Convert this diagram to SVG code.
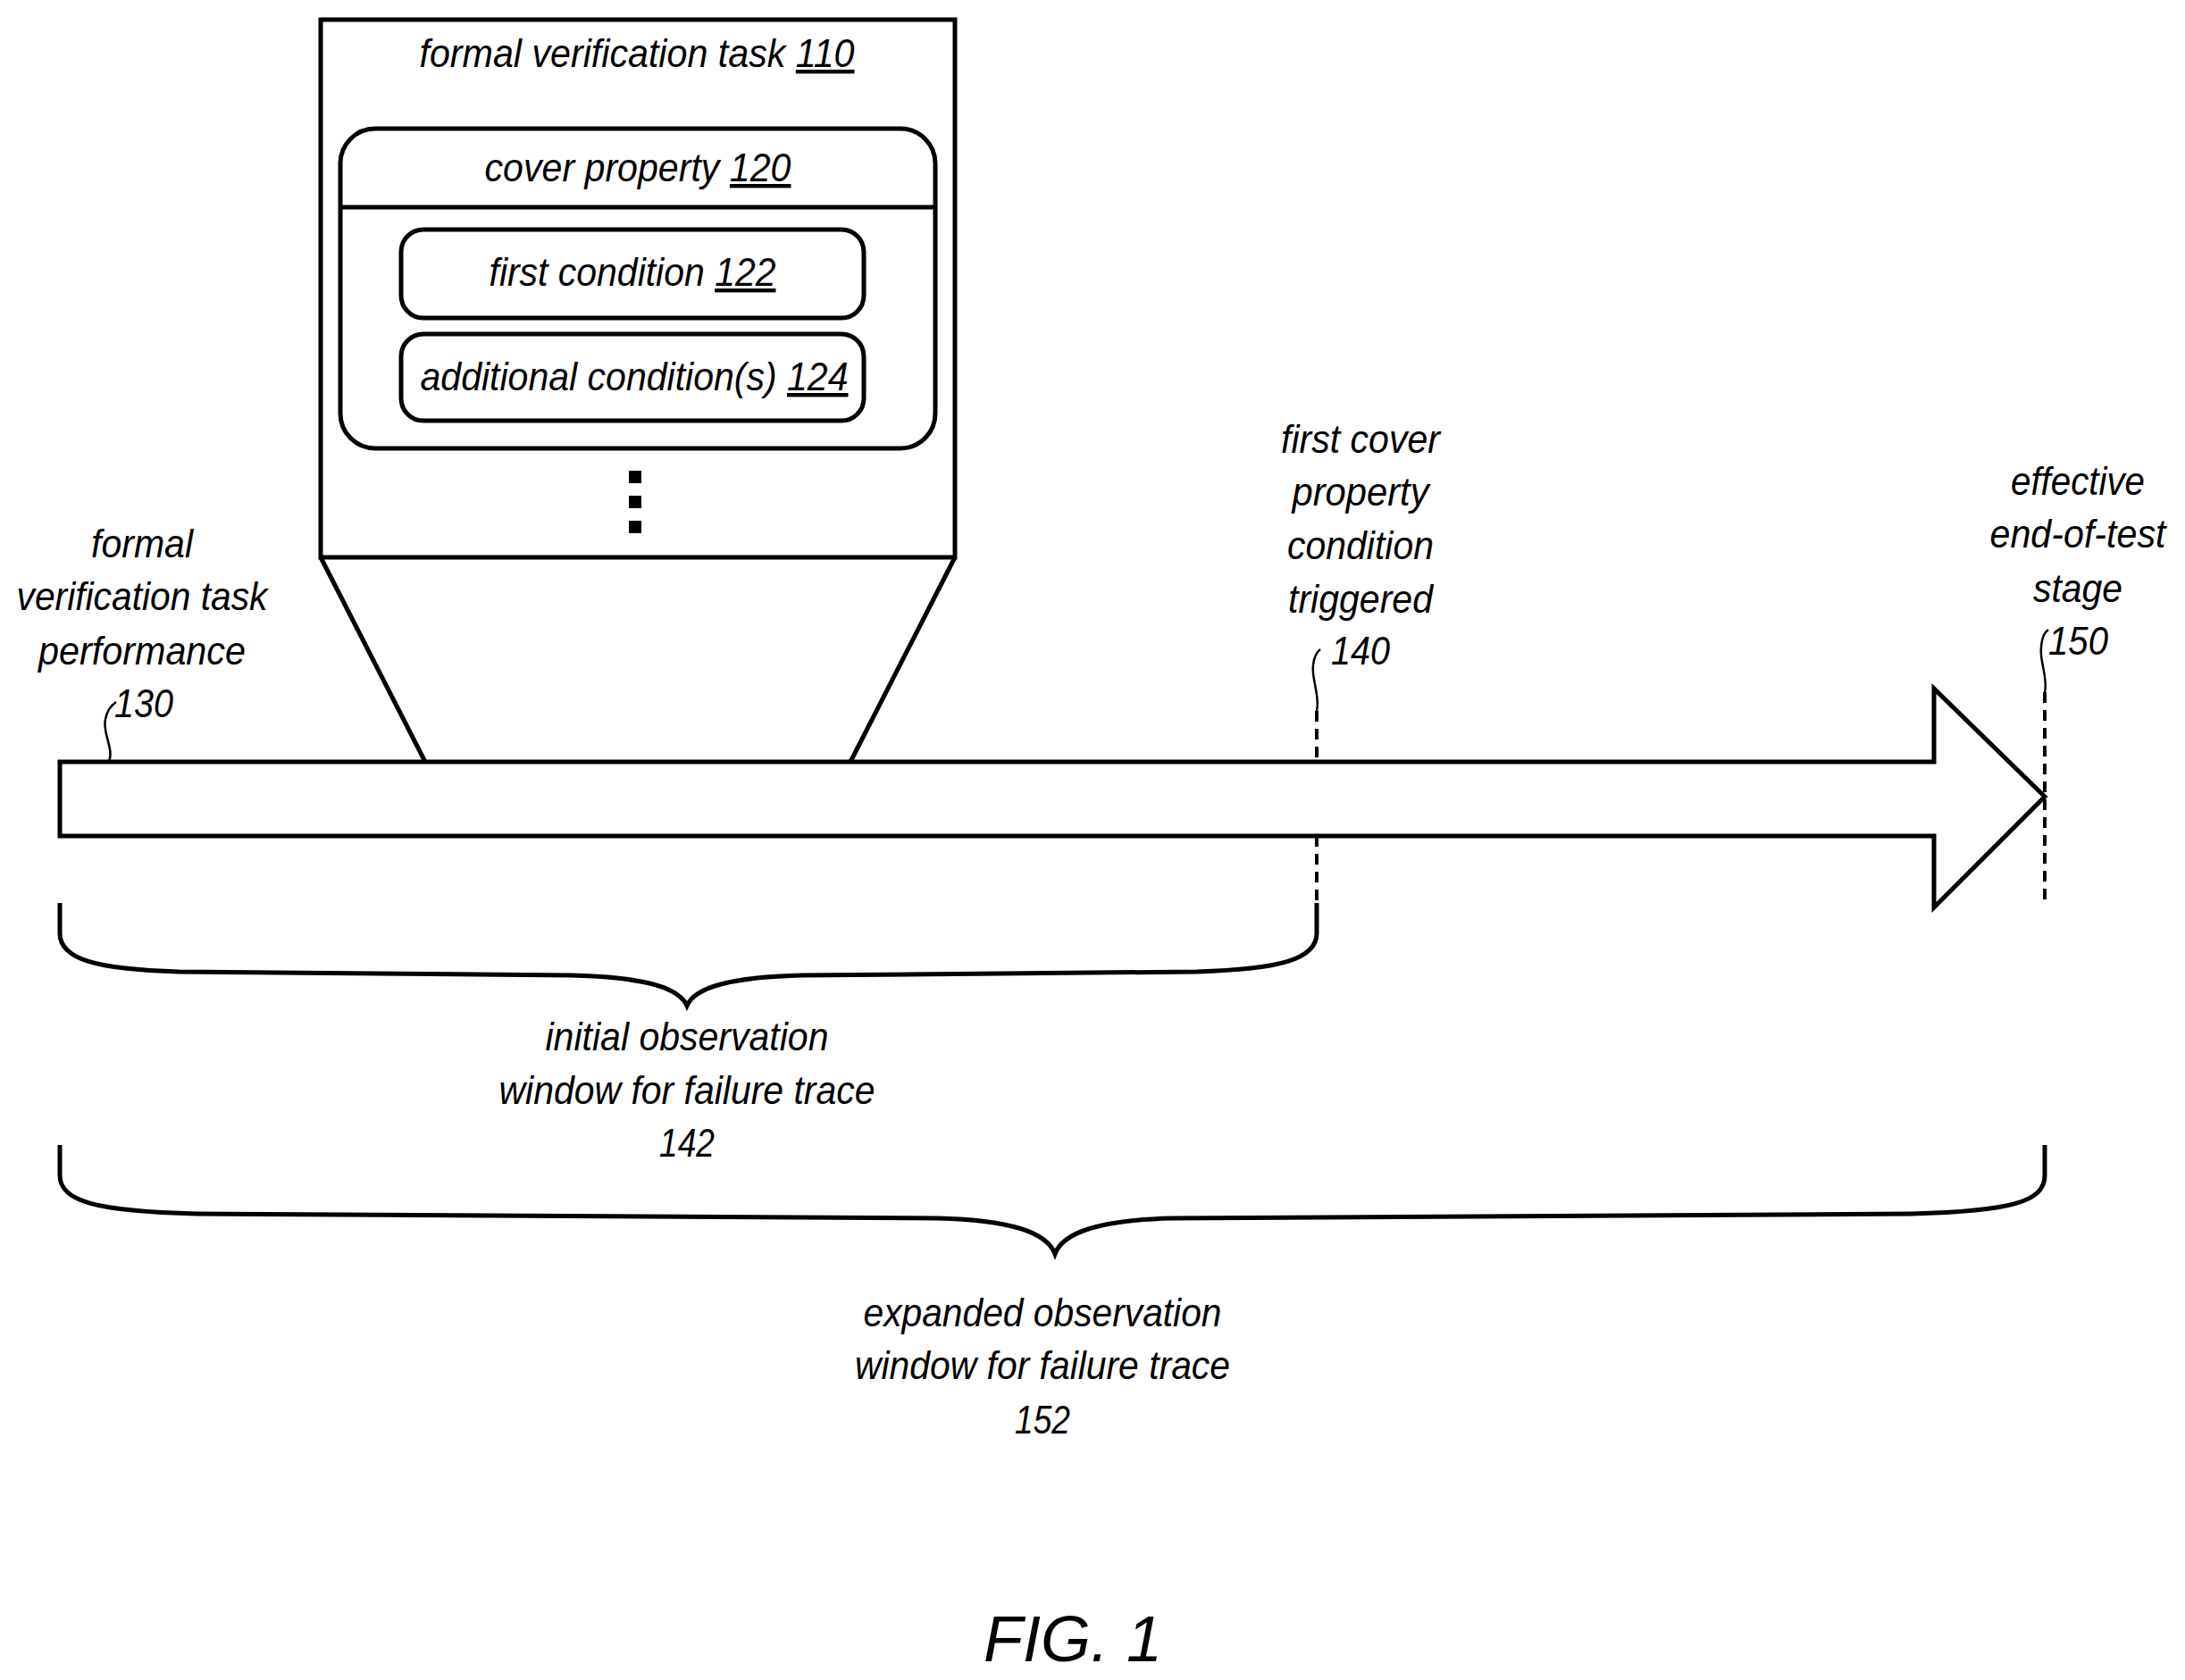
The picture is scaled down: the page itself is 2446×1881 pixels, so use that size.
<svg xmlns="http://www.w3.org/2000/svg" width="2446" height="1881" viewBox="0 0 2446 1881">
<style>
.s{fill:none;stroke:#000;stroke-width:5;stroke-linejoin:miter}
.w{fill:#fff;stroke:#000;stroke-width:5}
.d{fill:none;stroke:#000;stroke-width:4;stroke-dasharray:12 8}
.q{fill:none;stroke:#000;stroke-width:2.5}
text{font-family:"Liberation Sans",Arial,sans-serif;font-style:italic;font-size:44px;fill:#000}
.c{text-anchor:middle}
.u{text-decoration:underline}
</style>
<rect width="2446" height="1881" fill="#fff"/>
<g id="connectors">
<path class="s" d="M359,624 L476,853 M1069,624 L952,853"/>
<path class="q" d="M122,853 C128,838 114,820 118,805 C120,795 124,790 130,786"/>
<path class="q" d="M1474,796 C1478,780 1468,760 1470,745 C1471,735 1474,730 1478,727"/>
<path class="q" d="M2289,775 C2293,760 2283,740 2285,725 C2286,712 2289,708 2293,705"/>
<path class="d" d="M1474,796 V1011"/>
<path class="d" d="M2289,775 V1011"/>
<path class="s" d="M67,1011 V1045 C67,1075 110,1085 200,1088 L640,1092 C720,1094 760,1105 769,1126 C778,1105 818,1094 898,1092 L1340,1088 C1430,1085 1474,1075 1474,1045 V1011"/>
<path class="s" d="M67,1282 V1316 C67,1346 110,1356 220,1359 L1050,1364 C1132,1366 1172,1380 1181,1404 C1190,1380 1230,1366 1312,1364 L2140,1359 C2250,1356 2289,1346 2289,1316 V1282"/>
</g>
<g id="timeline">
<path class="w" d="M67,853 H2165 V771 L2289,892 L2165,1016 V936 H67 Z"/>
</g>
<g id="task110">
<rect class="w" x="359" y="22" width="710" height="602"/>
<text class="c" x="713" y="75" textLength="487" lengthAdjust="spacingAndGlyphs">formal verification task <tspan class="u">110</tspan></text>
<g fill="#000"><rect x="704" y="527" width="14" height="14"/><rect x="704" y="555" width="14" height="14"/><rect x="704" y="583" width="14" height="14"/></g>
</g>
<g id="cover120">
<rect class="w" x="381" y="144" width="666" height="358" rx="39"/>
<path class="s" d="M381,232 H1047"/>
<text class="c" x="714" y="203" textLength="343" lengthAdjust="spacingAndGlyphs">cover property <tspan class="u">120</tspan></text>
</g>
<g id="cond122">
<rect class="w" x="449" y="257" width="518" height="99" rx="25"/>
<text class="c" x="708" y="320" textLength="321" lengthAdjust="spacingAndGlyphs">first condition <tspan class="u">122</tspan></text>
</g>
<g id="cond124">
<rect class="w" x="449" y="374" width="518" height="97" rx="25"/>
<text class="c" x="710" y="437" textLength="479" lengthAdjust="spacingAndGlyphs">additional condition(s) <tspan class="u">124</tspan></text>
</g>
<g id="label130">
<text class="c" x="159" y="624" textLength="114" lengthAdjust="spacingAndGlyphs">formal</text>
<text class="c" x="159" y="683" textLength="281" lengthAdjust="spacingAndGlyphs">verification task</text>
<text class="c" x="159" y="744" textLength="232" lengthAdjust="spacingAndGlyphs">performance</text>
<text x="128" y="803" textLength="66" lengthAdjust="spacingAndGlyphs">130</text>
</g>
<g id="label140">
<text class="c" x="1523" y="507" textLength="178" lengthAdjust="spacingAndGlyphs">first cover</text>
<text class="c" x="1523" y="566" textLength="153" lengthAdjust="spacingAndGlyphs">property</text>
<text class="c" x="1523" y="626" textLength="164" lengthAdjust="spacingAndGlyphs">condition</text>
<text class="c" x="1523" y="686" textLength="162" lengthAdjust="spacingAndGlyphs">triggered</text>
<text x="1490" y="744" textLength="66" lengthAdjust="spacingAndGlyphs">140</text>
</g>
<g id="label150">
<text class="c" x="2326" y="554" textLength="150" lengthAdjust="spacingAndGlyphs">effective</text>
<text class="c" x="2326" y="613" textLength="197" lengthAdjust="spacingAndGlyphs">end-of-test</text>
<text class="c" x="2326" y="674" textLength="100" lengthAdjust="spacingAndGlyphs">stage</text>
<text x="2293" y="733" textLength="67" lengthAdjust="spacingAndGlyphs">150</text>
</g>
<g id="label142">
<text class="c" x="769" y="1176" textLength="317" lengthAdjust="spacingAndGlyphs">initial observation</text>
<text class="c" x="769" y="1236" textLength="421" lengthAdjust="spacingAndGlyphs">window for failure trace</text>
<text class="c" x="769" y="1295" textLength="62" lengthAdjust="spacingAndGlyphs">142</text>
</g>
<g id="label152">
<text class="c" x="1167" y="1485" textLength="401" lengthAdjust="spacingAndGlyphs">expanded observation</text>
<text class="c" x="1167" y="1544" textLength="420" lengthAdjust="spacingAndGlyphs">window for failure trace</text>
<text class="c" x="1167" y="1605" textLength="62" lengthAdjust="spacingAndGlyphs">152</text>
</g>
<g id="fig">
<text class="c" x="1201" y="1860" style="font-size:72px">FIG. 1</text>
</g>
</svg>
